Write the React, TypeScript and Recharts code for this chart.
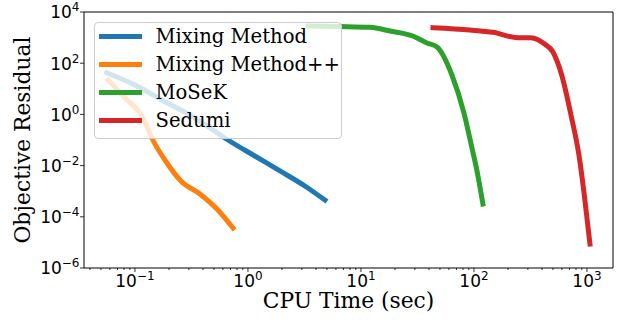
import { LineChart, Line, XAxis, YAxis, Legend, ReferenceArea, Label } from 'recharts'

// CPU time (sec) vs objective residual
const mixTime = [0.0562, 0.1, 0.173, 0.34, 0.665, 1.15, 1.92, 3.19, 4.8]
const mixResid = [42.5, 14.1, 3.65, 0.72, 0.1, 0.0237, 0.0062, 0.0016, 0.00045]

const mixPPTime = [0.058, 0.0816, 0.118, 0.144, 0.192, 0.255, 0.376, 0.532, 0.737]
const mixPPResid = [22, 4.4, 0.72, 0.1, 0.0126, 0.0025, 0.00078, 0.0002, 0.0000363]

const mosekTime = [3.4, 6.52, 12.0, 18.1, 28.8, 38.4, 47.1, 63.8, 81.6, 96, 106, 120]
const mosekResid = [2840, 2715, 2525, 1810, 1155, 615, 430, 34.6, 1.13, 0.0487, 0.0067, 0.000316]

const sedumiTime = [43.4, 92.2, 147, 245, 319, 425, 500, 601, 722, 849, 959, 1063]
const sedumiResid = [2437, 1982, 1611, 991, 991, 547, 274, 31.6, 0.95, 0.026, 0.00045, 0.0000087]

const xMajor = [0.1, 1, 10, 100, 1000]
const xMinor = [
  0.04, 0.05, 0.06, 0.07, 0.08, 0.09,
  0.2, 0.3, 0.4, 0.5, 0.6, 0.7, 0.8, 0.9,
  2, 3, 4, 5, 6, 7, 8, 9,
  20, 30, 40, 50, 60, 70, 80, 90,
  200, 300, 400, 500, 600, 700, 800, 900,
]
const yTicks = [1e-6, 1e-4, 1e-2, 1, 1e2, 1e4]

const X_DOMAIN: [number, number] = [0.0354, 1700]
const Y_DOMAIN: [number, number] = [1e-6, 1e4]

const zip = (xs: number[], ys: number[]) => xs.map((x, i) => ({ x, y: ys[i] }))

const series = [
  { name: 'Mixing Method', color: '#1f77b4', data: zip(mixTime, mixResid) },
  { name: 'Mixing Method++', color: '#ff7f0e', data: zip(mixPPTime, mixPPResid) },
  { name: 'MoSeK', color: '#2ca02c', data: zip(mosekTime, mosekResid) },
  { name: 'Sedumi', color: '#d62728', data: zip(sedumiTime, sedumiResid) },
]

const SERIF = '"DejaVu Serif", serif'
const SANS = '"DejaVu Sans", sans-serif'

const expText = (v: number) => {
  const e = Math.round(Math.log10(v))
  return e < 0 ? `\u2212${-e}` : `${e}`
}

const isMajor = (v: number) => Math.abs(Math.log10(v) - Math.round(Math.log10(v))) < 1e-6

function XTick({ x, y, payload }: any) {
  const v = payload.value
  const major = isMajor(v)
  return (
    <g>
      <line x1={x} x2={x} y1={y} y2={y + (major ? 4 : 2)} stroke="#000" strokeWidth={0.8} />
      {major && (
        <text x={x} y={y + 18.7} textAnchor="middle" fontFamily={SANS} fontSize={17} fill="#000">
          10<tspan dy={-7} fontSize={12}>{expText(v)}</tspan>
        </text>
      )}
    </g>
  )
}

function YTick({ x, y, payload }: any) {
  return (
    <g>
      <line x1={x - 4} x2={x} y1={y} y2={y} stroke="#000" strokeWidth={0.8} />
      <text x={x - 4.5} y={y + 6.4} textAnchor="end" fontFamily={SANS} fontSize={17} fill="#000">
        10<tspan dy={-7} fontSize={12}>{expText(payload.value)}</tspan>
      </text>
    </g>
  )
}

function LegendBox() {
  return (
    <div
      style={{
        boxSizing: 'border-box',
        width: 248,
        height: 117,
        padding: '0 0 0 4px',
        border: '1px solid #cccccc',
        borderRadius: 4,
        background: 'rgba(255,255,255,0.8)',
      }}
    >
      {series.map((s) => (
        <div key={s.name} style={{ display: 'flex', alignItems: 'center', height: 27.8 }}>
          <div style={{ width: 43, height: 5, background: s.color, marginRight: 13.5 }} />
          <span style={{ fontFamily: SERIF, fontSize: 19.6, color: '#000', whiteSpace: 'nowrap' }}>{s.name}</span>
        </div>
      ))}
    </div>
  )
}

export default function App() {
  return (
    <div>
      <style>{`body { margin: 0; }`}</style>
      <LineChart width={626} height={322} margin={{ top: 12, right: 13, left: 0, bottom: 0 }}>
        <XAxis
          dataKey="x"
          type="number"
          scale="log"
          domain={X_DOMAIN}
          allowDataOverflow
          ticks={[...xMinor, ...xMajor].sort((a, b) => a - b)}
          interval={0}
          height={54}
          axisLine={false}
          tickLine={false}
          tickSize={0}
          tickMargin={0}
          tick={<XTick />}
        >
          <Label
            content={({ viewBox }: any) => (
              <text
                x={viewBox.x + viewBox.width / 2}
                y={viewBox.y + 40}
                textAnchor="middle"
                fontFamily={SERIF}
                fontSize={21.8}
                fill="#000"
              >
                CPU Time (sec)
              </text>
            )}
          />
        </XAxis>
        <YAxis
          dataKey="y"
          type="number"
          scale="log"
          domain={Y_DOMAIN}
          allowDataOverflow
          ticks={yTicks}
          interval={0}
          width={84}
          axisLine={false}
          tickLine={false}
          tickSize={0}
          tickMargin={0}
          tick={<YTick />}
        >
          <Label
            content={({ viewBox }: any) => {
              const cx = viewBox.x + 30
              const cy = viewBox.y + viewBox.height / 2
              return (
                <text
                  x={cx}
                  y={cy}
                  transform={`rotate(-90 ${cx} ${cy})`}
                  textAnchor="middle"
                  fontFamily={SERIF}
                  fontSize={21.8}
                  fill="#000"
                >
                  Objective Residual
                </text>
              )
            }}
          />
        </YAxis>
        <ReferenceArea
          x1={X_DOMAIN[0]}
          x2={X_DOMAIN[1]}
          y1={Y_DOMAIN[0]}
          y2={Y_DOMAIN[1]}
          fill="none"
          stroke="#000"
          strokeWidth={1}
          ifOverflow="visible"
        />
        {series.map((s) => (
          <Line
            key={s.name}
            data={s.data}
            dataKey="y"
            name={s.name}
            type="monotone"
            stroke={s.color}
            strokeWidth={5}
            strokeLinecap="square"
            strokeLinejoin="round"
            dot={false}
            activeDot={false}
            isAnimationActive={false}
          />
        ))}
        <Legend
          layout="horizontal"
          verticalAlign="middle"
          align="center"
          content={() => <LegendBox />}
          wrapperStyle={{ position: 'absolute', left: 94, top: 22, width: 248, height: 117 }}
        />
      </LineChart>
    </div>
  )
}
